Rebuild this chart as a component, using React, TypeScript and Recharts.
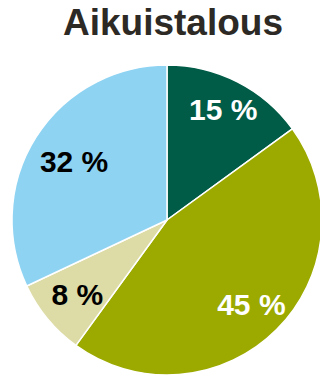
import { PieChart, Pie, Cell } from "recharts";

const categories = ["A", "B", "C", "D"];
const shares = [15, 45, 8, 32];
const colors = ["#005c47", "#9caa00", "#dddba6", "#8fd3f3"];
const labelColors = ["#ffffff", "#ffffff", "#000000", "#000000"];
// how far out from the centre each label sits, as a share of the radius
const labelReach = [0.8, 0.77, 0.75, 0.71];

const data = categories.map((name, i) => ({ name, value: shares[i] }));

const RAD = Math.PI / 180;

function renderLabel(props: any) {
  const { cx, cy, midAngle, outerRadius, index, value } = props;
  const r = outerRadius * labelReach[index];
  const x = cx + r * Math.cos(-midAngle * RAD);
  const y = cy + r * Math.sin(-midAngle * RAD);
  return (
    <text
      x={x}
      y={y}
      fill={labelColors[index]}
      textAnchor="middle"
      dominantBaseline="central"
      fontFamily="Liberation Sans, Arial, sans-serif"
      fontWeight="bold"
      fontSize={30}
    >
      {value} %
    </text>
  );
}

export default function App() {
  return (
    <div style={{ position: "absolute", left: 0, top: 0, width: 320, height: 377, background: "#fff" }}>
      <div
        style={{
          position: "absolute",
          left: 173,
          top: 4,
          transform: "translateX(-50%)",
          whiteSpace: "nowrap",
          fontFamily: "Liberation Sans, Arial, sans-serif",
          fontWeight: "bold",
          fontSize: 37,
          lineHeight: "37px",
          color: "#2d2a25",
        }}
      >
        Aikuistalous
      </div>
      <PieChart width={320} height={377} margin={{ top: 0, right: 0, bottom: 0, left: 0 }}>
        <Pie
          data={data}
          dataKey="value"
          nameKey="name"
          cx={167}
          cy={220}
          outerRadius={155}
          startAngle={90}
          endAngle={-270}
          stroke="#ffffff"
          strokeWidth={1.5}
          label={renderLabel}
          labelLine={false}
          isAnimationActive={false}
        >
          {data.map((d, i) => (
            <Cell key={d.name} fill={colors[i]} />
          ))}
        </Pie>
      </PieChart>
    </div>
  );
}
